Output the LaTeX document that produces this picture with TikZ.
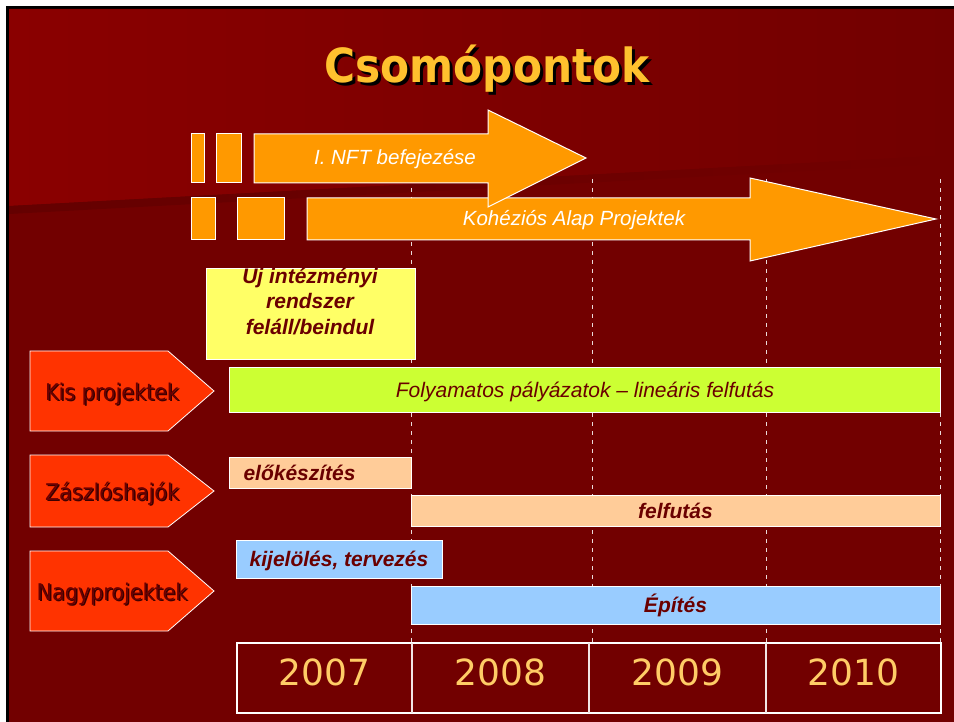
\documentclass[tikz,border=0pt]{standalone}
\usepackage{fontspec}
\setmainfont{Liberation Sans}
\newfontfamily\tahoma[FakeStretch=0.9]{DejaVu Sans}
\newfontfamily\yearfont{DejaVu Sans}
\definecolor{slide}{HTML}{720000}
\definecolor{slidelight}{HTML}{8A0000}
\definecolor{ink}{HTML}{6A0000}
\definecolor{inkshadow}{HTML}{3A0000}
\definecolor{arrowfill}{HTML}{FF9900}
\definecolor{gold}{HTML}{FFC12E}
\definecolor{yeargold}{HTML}{FFCC66}
\definecolor{signal}{HTML}{FF3300}
\definecolor{lemon}{HTML}{FFFF66}
\definecolor{lime}{HTML}{CCFF33}
\definecolor{peach}{HTML}{FFCC99}
\definecolor{sky}{HTML}{99CCFF}

\begin{document}
\begin{tikzpicture}[x=1pt,y=-1pt,
  bar/.style={draw=white,line width=0.8pt},
  bigarrow/.style={fill=arrowfill,draw=white,line width=1pt},
  arrowtext/.style={font=\fontsize{20.5}{24}\selectfont\itshape,text=white,anchor=base},
  bartext/.style={font=\fontsize{21}{25.5}\selectfont\bfseries\itshape,text=ink,anchor=base},
  pentatext/.style={font=\tahoma\fontsize{23}{26}\selectfont,text=ink,anchor=base},
  yeartext/.style={font=\yearfont\fontsize{36}{40}\selectfont,text=yeargold,anchor=base}]
  \newcommand*{\Left}{30}
  \newcommand*{\Notch}{168}
  \newcommand*{\Tip}{214}
  \newcommand*{\ShadowText}[3]{\makebox[0pt][l]{\hspace*{#2}\raisebox{-#2}{\textcolor{#1}{#3}}}#3}
  \useasboundingbox (0,0) rectangle (954,722);
  \fill[white] (0,0) rectangle (954,722);
  \fill[black] (6,6) rectangle (954,722);
  \fill[slide] (9,9) rectangle (954,722);
  \shade[left color=slidelight,right color=slide] (9,9) -- (954,9) -- (954,155) -- (9,206) -- cycle;
  \shade[left color=slide!88!black,right color=slide] (9,206) -- (954,155) -- (954,163) -- (9,214) -- cycle;

  \node[font=\tahoma\fontsize{47}{50}\selectfont\bfseries,text=gold,anchor=base] (title) at (487,83) {\ShadowText{black}{3pt}{Csomópontok}};

  \foreach \x in {411,592,766,940}
    \draw[white!85!slide,dash pattern=on 4pt off 5pt,line width=0.9pt] (\x,179) -- (\x,643);

  \filldraw[bigarrow] (191,198) rectangle (215,240);
  \filldraw[bigarrow] (237,198) rectangle (284,240);
  \filldraw[bigarrow] (307,198) -- (750,198) -- (750,178) -- (936,219) -- (750,261) -- (750,240) -- (307,240) -- cycle;
  \node[arrowtext] (kohezio) at (574,226) {Kohéziós Alap Projektek};

  \filldraw[bigarrow] (191,134) rectangle (204,183);
  \filldraw[bigarrow] (216,134) rectangle (241,183);
  \filldraw[bigarrow] (254,134) -- (488,134) -- (488,110) -- (586,158) -- (488,207) -- (488,183) -- (254,183) -- cycle;
  \node[arrowtext] (nft) at (395,165) {I. NFT befejezése};

  \filldraw[bar,fill=lemon] (206,268) rectangle (415,359);
  \begin{scope}
    \clip (206,268) rectangle (415,359);
    \node[bartext,anchor=center,align=center] (ujrendszer) at (310,299.5) {Új intézményi\\rendszer\\feláll/beindul};
  \end{scope}

  \foreach \ya/\yb/\name/\label in {351/431/kis/Kis projektek,455/527/zaszlo/Zászlóshajók,551/631/nagy/Nagyprojektek}{
    \filldraw[fill=signal,draw=white,line width=0.8pt] (\Left,\ya) -- (\Notch,\ya) -- (\Tip,{(\ya+\yb)/2}) -- (\Notch,\yb) -- (\Left,\yb) -- cycle;
    \node[pentatext] (\name) at (112,{(\ya+\yb)/2+9}) {\ShadowText{inkshadow}{1.5pt}{\label}};
  }

  \filldraw[bar,fill=lime] (229,367) rectangle (940,412);
  \node[bartext,font=\fontsize{21}{25.5}\selectfont\itshape] (folyamatos) at (585,397) {Folyamatos pályázatok – lineáris felfutás};
  \filldraw[bar,fill=peach] (229,457) rectangle (411,488);
  \node[bartext,anchor=base west] (elokeszites) at (240,480) {előkészítés};
  \filldraw[bar,fill=peach] (411,495) rectangle (940,526);
  \node[bartext] (felfutas) at (675.5,518) {felfutás};
  \filldraw[bar,fill=sky] (236,540) rectangle (442,578);
  \node[bartext] (kijeloles) at (339,566.5) {kijelölés, tervezés};
  \filldraw[bar,fill=sky] (411,586) rectangle (940,624);
  \node[bartext] (epites) at (675.5,612.5) {Építés};

  \draw[white,line width=2.5pt] (237,643) rectangle (941,713);
  \foreach \x in {412,589,766}
    \draw[white!90!slide,line width=1.2pt] (\x,643) -- (\x,713);
  \foreach \x/\yr in {324.5/2007,500.5/2008,677.5/2009,853.5/2010}
    \node[yeartext] (y\yr) at (\x,685) {\yr};
\end{tikzpicture}
\end{document}
